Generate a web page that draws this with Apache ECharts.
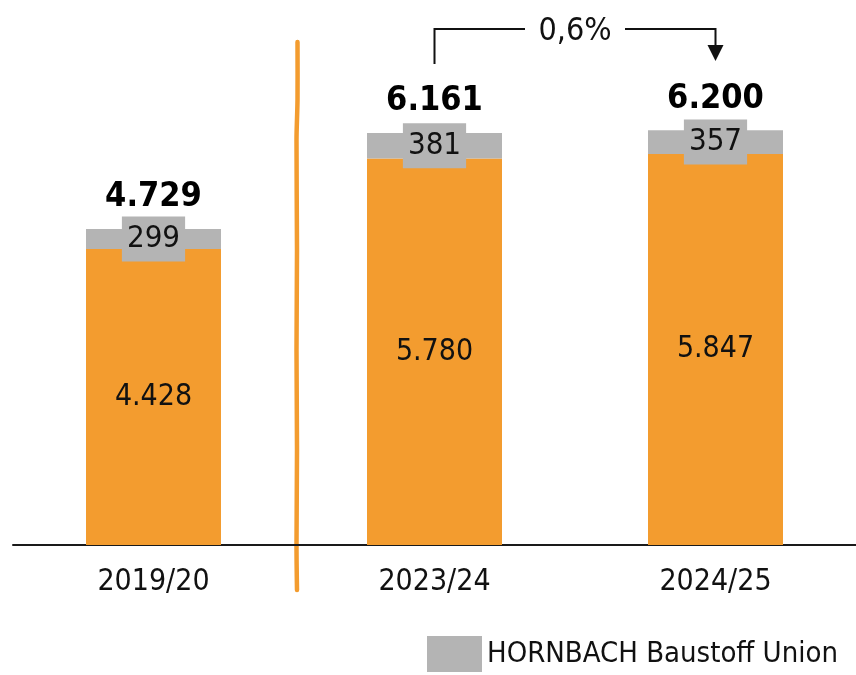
<!DOCTYPE html>
<html>
<head>
<meta charset="utf-8">
<script src="https://cdn.jsdelivr.net/npm/echarts@6/dist/echarts.min.js"></script>
<style>
  html, body { margin: 0; padding: 0; background: #fff; }
  #main { width: 856px; height: 675px; }
</style>
</head>
<body>
<div id="main"></div>
<script>
// data
var years = ['2019/20', '2023/24', '2024/25'];
var baumarkt = [4428, 5780, 5847];          // orange part
var baustoffUnion = [299, 381, 357];        // grey part
var totals = [4729, 6161, 6200];
var changeText = '0,6%';

var FONT = "'DejaVu Sans Condensed', 'Liberation Sans Narrow', sans-serif";
var ORANGE = '#f39c2f';
var GREY = '#b4b4b4';

function fmt(v) {
    return String(v).replace(/\B(?=(\d{3})+(?!\d))/g, '.');
}

var myChart = echarts.init(document.getElementById('main'));

myChart.setOption({
    animation: false,
    grid: { left: 13, right: -6, top: 0, bottom: 130 },
    legend: {
        data: ['HORNBACH Baustoff Union'],
        left: 427,
        top: 636,
        padding: 0,
        icon: 'rect',
        itemWidth: 55,
        itemHeight: 36,
        itemGap: 6,
        selectedMode: false,
        textStyle: { fontFamily: FONT, fontSize: 29, color: '#111' }
    },
    xAxis: {
        type: 'category',
        data: years,
        axisLine: { lineStyle: { color: '#1a1a1a', width: 2 } },
        axisTick: { show: false },
        axisLabel: {
            margin: 22,
            fontFamily: FONT,
            fontSize: 30,
            color: '#111'
        }
    },
    yAxis: {
        type: 'value',
        min: 0,
        max: 8150,
        show: false,
        splitLine: { show: false }
    },
    series: [
        {
            name: 'HORNBACH Baumarkt',
            type: 'bar',
            stack: 'sum',
            barWidth: 135,
            data: baumarkt,
            itemStyle: { color: ORANGE },
            label: {
                show: true,
                position: 'inside',
                fontFamily: FONT,
                fontSize: 30,
                color: '#111',
                formatter: function (p) { return fmt(p.value); }
            }
        },
        {
            name: 'HORNBACH Baustoff Union',
            type: 'bar',
            stack: 'sum',
            barWidth: 135,
            data: baustoffUnion,
            itemStyle: { color: GREY },
            label: {
                show: true,
                position: 'inside',
                fontFamily: FONT,
                fontSize: 31,
                color: '#111',
                backgroundColor: GREY,
                padding: [8, 5, 6, 5],
                formatter: function (p) { return fmt(p.value); }
            }
        },
        {
            name: 'total',
            type: 'scatter',
            data: totals,
            symbolSize: 1,
            silent: true,
            itemStyle: { color: 'rgba(0,0,0,0)', opacity: 1 },
            label: {
                show: true,
                position: 'top',
                distance: 14,
                fontFamily: FONT,
                fontSize: 34,
                fontWeight: 'bold',
                color: '#000',
                formatter: function (p) { return fmt(p.value); }
            }
        }
    ]
});

// annotations: separator line and growth bracket
var p0 = myChart.convertToPixel({ gridIndex: 0 }, [0, 0]);
var p1 = myChart.convertToPixel({ gridIndex: 0 }, [1, 0]);
var p2 = myChart.convertToPixel({ gridIndex: 0 }, [2, 0]);
var xb = (p0[0] + p1[0]) / 2 + 3;
var x1 = p1[0], x2 = p2[0];
var mid = (x1 + x2) / 2;
var yTop = 29;

myChart.setOption({
    graphic: [
        {
            type: 'polyline',
            shape: {
                points: [[xb + 0.5, 42], [xb + 0.5, 100], [xb - 0.5, 140], [xb, 250],
                         [xb - 0.5, 350], [xb, 450], [xb - 0.5, 545], [xb, 590]],
                smooth: 0.3
            },
            style: { stroke: ORANGE, lineWidth: 4.5, fill: null, lineCap: 'round' }
        },
        {
            type: 'polyline',
            shape: { points: [[x1, 64], [x1, yTop], [mid - 50, yTop]] },
            style: { stroke: '#111', lineWidth: 2, fill: null }
        },
        {
            type: 'polyline',
            shape: { points: [[mid + 50, yTop], [x2, yTop], [x2, 47]] },
            style: { stroke: '#111', lineWidth: 2, fill: null }
        },
        {
            type: 'polygon',
            shape: { points: [[x2 - 8, 45], [x2 + 8, 45], [x2, 61]] },
            style: { fill: '#111' }
        },
        {
            type: 'text',
            x: mid,
            y: yTop + 3,
            style: {
                text: changeText,
                fontFamily: FONT,
                fontSize: 32,
                fill: '#111',
                align: 'center',
                verticalAlign: 'middle'
            }
        }
    ]
});
</script>
</body>
</html>
